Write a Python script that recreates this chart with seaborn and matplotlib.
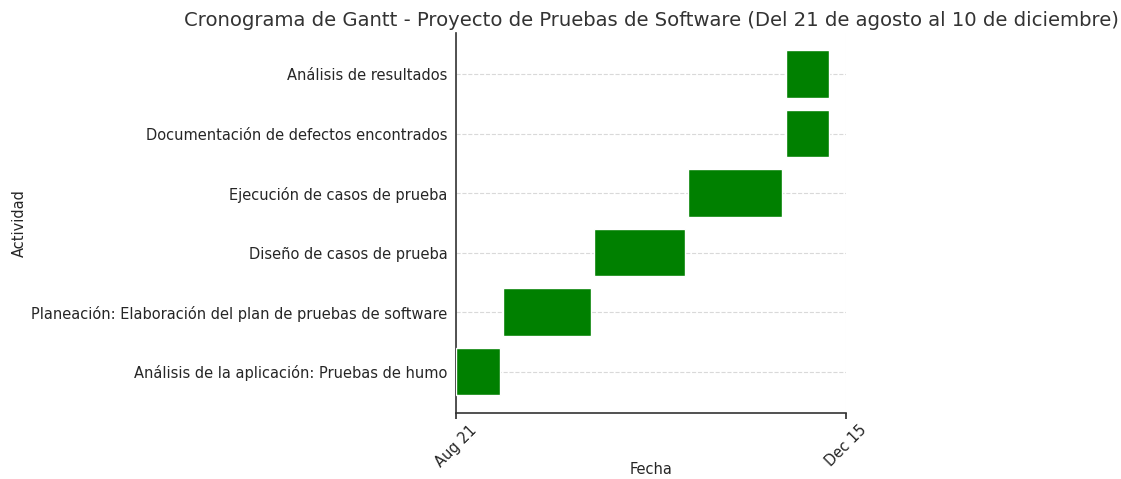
import matplotlib
matplotlib.use("Agg")
import matplotlib.pyplot as plt
import matplotlib.dates as mdates
import seaborn as sns
import pandas as pd

activities = [
    "Análisis de la aplicación: Pruebas de humo",
    "Planeación: Elaboración del plan de pruebas de software",
    "Diseño de casos de prueba",
    "Ejecución de casos de prueba",
    "Documentación de defectos encontrados",
    "Análisis de resultados",
]
starts = ["2023-08-21", "2023-09-04", "2023-10-01", "2023-10-29", "2023-11-27", "2023-11-27"]
ends = ["2023-09-03", "2023-09-30", "2023-10-28", "2023-11-26", "2023-12-10", "2023-12-10"]
tick_dates = ["2023-08-21", "2023-12-15"]

df = pd.DataFrame({"Actividad": activities,
                   "Inicio": pd.to_datetime(starts),
                   "Fin": pd.to_datetime(ends)})
df["start_num"] = mdates.date2num(df["Inicio"])
df["dur"] = mdates.date2num(df["Fin"]) - df["start_num"]

sns.set_theme(style="whitegrid")
plt.rcParams["font.family"] = ["DejaVu Sans"]

fig = plt.figure(figsize=(11.21, 4.79), dpi=100)
ax = fig.add_axes([0.4068, 0.1384, 0.348, 0.7926])

ax.barh(df["Actividad"], df["dur"], left=df["start_num"], height=0.8, color="green", zorder=3)

tnum = mdates.date2num(pd.to_datetime(tick_dates))
ax.set_xlim(tnum[0], tnum[1])
ax.set_xticks(tnum)
ax.xaxis.set_major_formatter(mdates.DateFormatter("%b %d"))
plt.setp(ax.get_xticklabels(), rotation=45, ha="center")

ax.grid(False)
ax.grid(axis="y", linestyle="--", color="#d9d9d9", linewidth=0.8)
ax.grid(axis="x", linestyle="-", color="#efefef", linewidth=0.8)
ax.set_axisbelow(True)
for s in ["top", "right"]:
    ax.spines[s].set_visible(False)
for s in ["left", "bottom"]:
    ax.spines[s].set_color("#333333")
    ax.spines[s].set_linewidth(1.2)
ax.tick_params(axis="x", bottom=True, length=4, pad=3, color="#333333", labelsize=10.5, labelcolor="#262626")
ax.tick_params(axis="y", left=False, length=0, pad=6, labelsize=10.5, labelcolor="#262626")

ax.set_xlabel("Fecha", fontsize=10.5, color="#262626")
ax.set_ylabel("Actividad", fontsize=10.5, color="#262626")
ax.xaxis.set_label_coords(0.5, -0.13)
ax.yaxis.set_label_coords(-1.10, 0.5)
ax.set_title("Cronograma de Gantt - Proyecto de Pruebas de Software (Del 21 de agosto al 10 de diciembre)",
             fontsize=14.1, color="#333333", pad=5)

fig.savefig("out.png", dpi=100)
